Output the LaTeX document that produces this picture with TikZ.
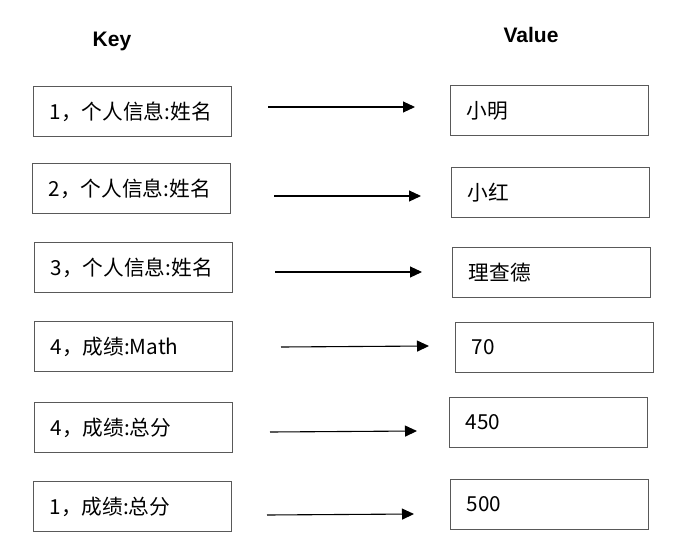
\documentclass[tikz,border=0pt]{standalone}
\usepackage{fontspec}
\setmainfont{Noto Sans CJK SC}
\newfontfamily\titlefont{Liberation Sans}
\usepackage{tikz}
\usetikzlibrary{arrows.meta}

\begin{document}
\begin{tikzpicture}[
	x=1pt, y=-1pt,
	title/.style={anchor=base, font=\titlefont\fontsize{21}{24}\selectfont\bfseries},
	kvbox/.style={draw=black!65, line width=1.2pt, anchor=north west, minimum width=198pt, minimum height=50pt, text width=166pt, inner xsep=16pt, align=left, font=\fontsize{20.7}{24}\selectfont},
	arrow/.style={line width=1.1pt, -{Triangle[length=12pt,width=11pt]}},
	]
	\useasboundingbox (0,0) rectangle (699,557);
	%Titles
	\node[title]	(keytitle)	at	(112,46)	{Key};
	\node[title]	(valtitle)	at	(531,42)	{Value};
	%Keys
	\node[kvbox]	(k1)	at	(33,86)		{1，个人信息:姓名};
	\node[kvbox]	(k2)	at	(32,163)	{2，个人信息:姓名};
	\node[kvbox]	(k3)	at	(34,242)	{3，个人信息:姓名};
	\node[kvbox]	(k4)	at	(34,321)	{4，成绩:Math};
	\node[kvbox]	(k5)	at	(34,402)	{4，成绩:总分};
	\node[kvbox]	(k6)	at	(33,481)	{1，成绩:总分};
	%Values
	\node[kvbox]	(v1)	at	(450,85)	{小明};
	\node[kvbox]	(v2)	at	(451,167)	{小红};
	\node[kvbox]	(v3)	at	(452,247)	{理查德};
	\node[kvbox]	(v4)	at	(455,322)	{70};
	\node[kvbox]	(v5)	at	(449,397)	{450};
	\node[kvbox]	(v6)	at	(450,479)	{500};
	%Arrow ends
	\coordinate	(s1)	at	(268,107);	\coordinate	(e1)	at	(415,107);
	\coordinate	(s2)	at	(274,196);	\coordinate	(e2)	at	(421,196);
	\coordinate	(s3)	at	(275,272);	\coordinate	(e3)	at	(422,272);
	\coordinate	(s4)	at	(281,347);	\coordinate	(e4)	at	(429,346);
	\coordinate	(s5)	at	(270,432);	\coordinate	(e5)	at	(417,431);
	\coordinate	(s6)	at	(267,515);	\coordinate	(e6)	at	(414,514);
	%Lines
	\draw[arrow] (s1) -- (e1);
	\draw[arrow] (s2) -- (e2);
	\draw[arrow] (s3) -- (e3);
	\draw[arrow] (s4) -- (e4);
	\draw[arrow] (s5) -- (e5);
	\draw[arrow] (s6) -- (e6);
\end{tikzpicture}
\end{document}
